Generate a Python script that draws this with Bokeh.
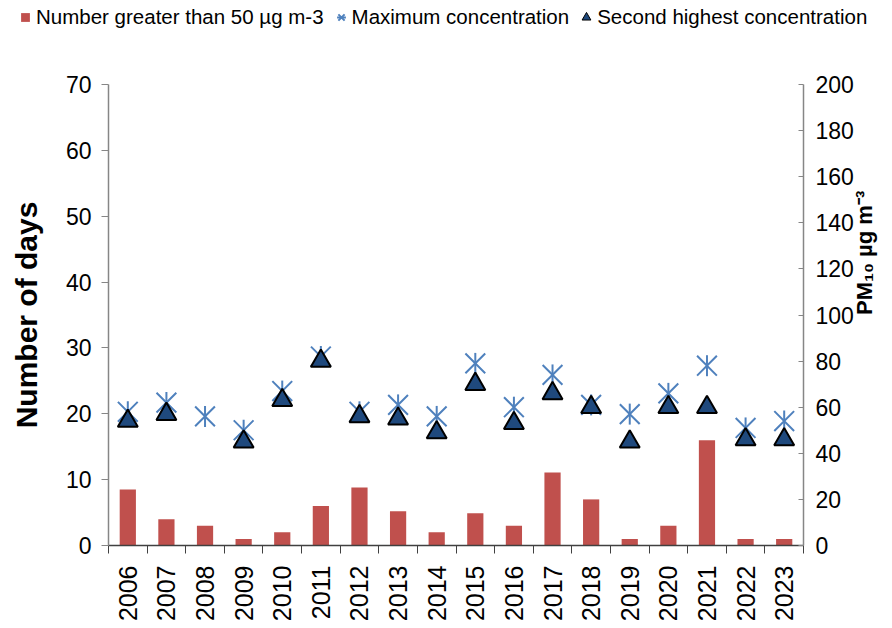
import math
import numpy as np
from bokeh.plotting import figure
from bokeh.models import (Range1d, LinearAxis, FixedTicker, Legend, LegendItem,
                          ColumnDataSource)
from bokeh.embed import file_html
from bokeh.resources import INLINE

# ---- data ----
years = ["2006", "2007", "2008", "2009", "2010", "2011", "2012", "2013", "2014",
         "2015", "2016", "2017", "2018", "2019", "2020", "2021", "2022", "2023"]
days_over_50 = [8.5, 4, 3, 1, 2, 6, 8.8, 5.2, 2, 4.9, 3, 11.1, 7, 1, 3, 16, 1, 1]
max_conc = [58, 62, 56, 50, 67, 82, 58, 61, 56, 79, 60, 74, 61, 57, 66, 78, 51, 54]
second_conc = [54, 57, np.nan, 45, 63, 80, 56, 55, 49, 70, 53, 66, 60, 45, 60, 60, 46, 46]
left_ticks = [0, 10, 20, 30, 40, 50, 60, 70]
right_ticks = [0, 20, 40, 60, 80, 100, 120, 140, 160, 180, 200]
legend_labels = ["Number greater than 50 \u00b5g m-3", "Maximum concentration",
                 "Second highest concentration"]

FONT = "Liberation Sans"
RED = "#C0504D"
BLUE = "#4F81BD"
NAVY = "#1F497D"
AXIS_GREY = "#868686"

n = len(years)
xc = [i + 0.5 for i in range(n)]
src = ColumnDataSource(dict(x=xc, year=years, days=days_over_50,
                            mx=max_conc, sec=second_conc))

BAR_STYLE = dict(fill_color=RED, line_color=None)
X_STYLE = dict(marker="x", size=28, line_color=BLUE, line_width=2)
V_STYLE = dict(marker="dash", angle=math.pi / 2, size=21, line_color=BLUE, line_width=2)
TRI_STYLE = dict(marker="triangle", size=20, fill_color=NAVY, line_color="black",
                 line_width=2)

LG_H = 40
P_H = 584
p = figure(width=892, height=P_H, output_backend="svg", toolbar_location=None,
           x_range=Range1d(0, n), y_range=Range1d(0, 70),
           min_border_left=108, min_border_right=87, min_border_top=84 - LG_H,
           min_border_bottom=P_H - (546 - LG_H))
p.extra_y_ranges = {"pm": Range1d(0, 200)}
p.outline_line_color = None
p.xgrid.visible = False
p.ygrid.visible = False

p.vbar(x="x", top="days", width=0.42, source=src, **BAR_STYLE)
p.scatter(x="x", y="mx", source=src, y_range_name="pm", **X_STYLE)
p.scatter(x="x", y="mx", source=src, y_range_name="pm", **V_STYLE)
p.scatter(x="x", y="sec", source=src, y_range_name="pm", **TRI_STYLE)

# x axis: labels at category centres, tick marks at category boundaries
xa = p.xaxis[0]
xa.ticker = FixedTicker(ticks=xc, minor_ticks=list(range(n + 1)))
xa.major_label_overrides = {c: y for c, y in zip(xc, years)}
xa.major_label_orientation = math.pi / 2
xa.major_tick_line_color = None
xa.minor_tick_line_color = "#404040"
xa.minor_tick_out = 8
xa.minor_tick_in = 0
xa.axis_line_color = "#404040"
xa.axis_line_width = 1.5
xa.major_label_text_font = FONT
xa.major_label_text_font_size = "25px"
xa.major_label_text_color = "black"
xa.major_label_standoff = 12

ya = p.yaxis[0]
ya.ticker = FixedTicker(ticks=left_ticks)
ya.axis_label = "Number of days"
ya.axis_label_text_font = FONT
ya.axis_label_text_font_style = "bold"
ya.axis_label_text_font_size = "30px"
ya.axis_label_text_color = "black"
ya.axis_label_standoff = 20
ya.major_label_text_font = FONT
ya.major_label_text_font_size = "23px"
ya.major_label_text_color = "black"
ya.major_label_standoff = 10
ya.major_tick_out = 7
ya.major_tick_in = 0
ya.minor_tick_line_color = None
ya.axis_line_color = AXIS_GREY
ya.axis_line_width = 1.5
ya.major_tick_line_color = AXIS_GREY

ra = LinearAxis(y_range_name="pm", ticker=FixedTicker(ticks=right_ticks))
ra.axis_label = "PM\u2081\u2080 \u00b5g m\u207b\u00b3"
ra.axis_label_text_font = FONT
ra.axis_label_text_font_style = "bold"
ra.axis_label_text_font_size = "22px"
ra.axis_label_text_color = "black"
ra.axis_label_standoff = 8
if "axis_label_orientation" in LinearAxis.properties():
    ra.axis_label_orientation = math.pi / 2
ra.major_label_text_font = FONT
ra.major_label_text_font_size = "23px"
ra.major_label_text_color = "black"
ra.major_label_standoff = 12
ra.major_tick_in = 5
ra.major_tick_out = 0
ra.minor_tick_line_color = None
ra.axis_line_color = AXIS_GREY
ra.axis_line_width = 1.5
ra.major_tick_line_color = AXIS_GREY
p.add_layout(ra, "right")

# ---- legend strip above the chart (legend keys only; their data lie out of view) ----
lg = figure(width=892, height=LG_H, output_backend="svg", toolbar_location=None,
            x_range=Range1d(0, n), y_range=Range1d(1000, 1001), min_border=0,
            x_axis_location=None, y_axis_location=None)
lg.xgrid.visible = False
lg.ygrid.visible = False
lg.outline_line_color = None
l_bar = lg.scatter(x="x", y="days", source=src, marker="square", size=10,
                   fill_color=RED, line_color=None)
l_x = lg.scatter(x="x", y="mx", source=src, **X_STYLE)
l_v = lg.scatter(x="x", y="mx", source=src, **V_STYLE)
l_tri = lg.scatter(x="x", y="sec", source=src, marker="triangle", size=10,
                   fill_color=NAVY, line_color="black", line_width=1)

legend = Legend(items=[
    LegendItem(label=legend_labels[0], renderers=[l_bar], index=0),
    LegendItem(label=legend_labels[1], renderers=[l_x, l_v], index=0),
    LegendItem(label=legend_labels[2], renderers=[l_tri], index=0),
], orientation="horizontal", location=(14, 11))
legend.label_text_font = FONT
legend.label_text_font_size = "20.5px"
legend.label_text_color = "black"
legend.glyph_width = 22
legend.glyph_height = 22
legend.label_standoff = -4
legend.spacing = 6
legend.padding = 0
legend.margin = 0
legend.border_line_color = None
legend.background_fill_alpha = 0
lg.add_layout(legend, "center")

open("out.html", "w").write(file_html([lg, p], INLINE))
